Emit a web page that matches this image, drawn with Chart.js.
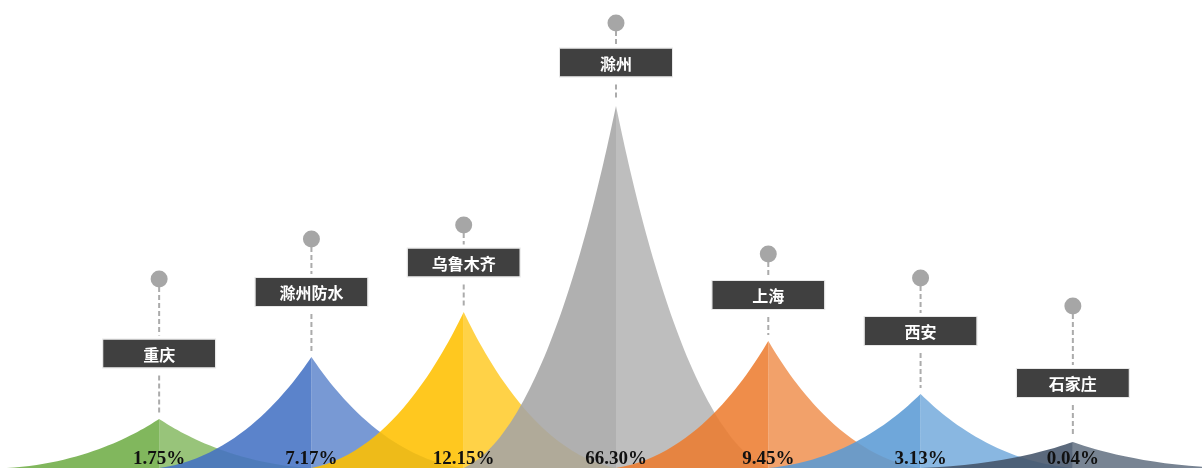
<!DOCTYPE html>
<html>
<head>
<meta charset="utf-8">
<script src="https://cdn.jsdelivr.net/npm/chart.js@4.4.1/dist/chart.umd.min.js"></script>
<style>
html,body{margin:0;padding:0;background:#fff;overflow:hidden;}
canvas{display:block;}
</style>
</head>
<body>
<canvas id="c" width="1202" height="469" style="width:1202px;height:469px;"></canvas>
<script>
// ---- data ----
const categories = ['重庆', '滁州防水', '乌鲁木齐', '滁州', '上海', '西安', '石家庄'];
const percentLabels = ['1.75%', '7.17%', '12.15%', '66.30%', '9.45%', '3.13%', '0.04%'];
const spikeHeights = [49, 111, 156, 362, 127, 74, 26];          // spike peak value
const markerHeights = [189, 229, 243, 445, 214, 190, 162];      // grey pin value
const labelHeights = [114.5, 176, 205.5, 405.5, 173, 137, 85];  // name box value
const seriesColors = ['#70AD47', '#4472C4', '#FFC000', '#A5A5A5', '#ED7D31', '#5B9BD5', '#44546A'];

function rgba(hex, a) {
  const n = parseInt(hex.slice(1), 16);
  return `rgba(${(n >> 16) & 255},${(n >> 8) & 255},${n & 255},${a})`;
}

const spikePlugin = {
  id: 'spikes',
  afterDatasetDraw(chart, args) {
    if (args.index !== 0) return;
    const ctx = chart.ctx;
    const meta = chart.getDatasetMeta(0);
    ctx.save();
    meta.data.forEach((el, i) => {
      const x = el.x, top = el.y, base = el.base;
      const w = el.width;            // half width of spike = one category width
      const h = base - top;
      const col = seriesColors[i];
      ctx.beginPath();
      ctx.moveTo(x - w, base);
      ctx.bezierCurveTo(x - w * 0.45, base - h * 0.1, x - w * 0.1, base - h * 0.8, x, top);
      ctx.lineTo(x, base);
      ctx.closePath();
      ctx.fillStyle = rgba(col, 0.88);
      ctx.fill();
      ctx.beginPath();
      ctx.moveTo(x + w, base);
      ctx.bezierCurveTo(x + w * 0.45, base - h * 0.1, x + w * 0.1, base - h * 0.8, x, top);
      ctx.lineTo(x, base);
      ctx.closePath();
      ctx.fillStyle = rgba(col, 0.72);
      ctx.fill();
    });
    ctx.restore();
  },
  afterDatasetsDraw(chart) {
    const ctx = chart.ctx;
    const meta = chart.getDatasetMeta(0);
    const yScale = chart.scales.y;
    ctx.save();
    meta.data.forEach((el, i) => {
      const x = el.x;
      const peak = el.y;
      const pinY = yScale.getPixelForValue(markerHeights[i]);
      const boxY = yScale.getPixelForValue(labelHeights[i]);
      const bw = 112, bh = 28;
      const bTop = boxY - bh / 2, bBot = boxY + bh / 2;
      ctx.strokeStyle = '#ABABAB';
      ctx.lineWidth = 2;
      ctx.setLineDash([5, 3]);
      ctx.beginPath();
      ctx.moveTo(x, pinY + 8);
      ctx.lineTo(x, bTop - 4);
      ctx.moveTo(x, bBot + 8);
      ctx.lineTo(x, peak - 6);
      ctx.stroke();
      ctx.setLineDash([]);
      ctx.fillStyle = '#404040';
      ctx.fillRect(x - bw / 2, bTop, bw, bh);
      ctx.strokeStyle = '#E8E8E8';
      ctx.lineWidth = 1;
      ctx.strokeRect(x - bw / 2 - 0.5, bTop - 0.5, bw + 1, bh + 1);
      ctx.fillStyle = '#FFFFFF';
      ctx.font = 'bold 16px "Noto Sans CJK SC", sans-serif';
      ctx.textAlign = 'center';
      ctx.textBaseline = 'middle';
      ctx.fillText(categories[i], x, boxY + 1);
      ctx.fillStyle = '#111111';
      ctx.font = 'bold 19px "Liberation Serif", serif';
      ctx.textBaseline = 'alphabetic';
      ctx.fillText(percentLabels[i], x, el.base - 4);
    });
    ctx.restore();
  }
};

new Chart(document.getElementById('c'), {
  data: {
    labels: categories,
    datasets: [
      {
        type: 'bar',
        data: spikeHeights,
        backgroundColor: 'rgba(0,0,0,0)',
        borderWidth: 0,
        categoryPercentage: 1,
        barPercentage: 1,
        order: 2
      },
      {
        type: 'line',
        data: markerHeights,
        showLine: false,
        pointRadius: 8.5,
        pointHoverRadius: 8.5,
        pointBackgroundColor: '#A6A6A6',
        pointBorderWidth: 0,
        order: 1
      }
    ]
  },
  options: {
    responsive: false,
    animation: false,
    devicePixelRatio: 1,
    layout: { autoPadding: false, padding: { left: 83, right: 53, top: 0, bottom: 1 } },
    plugins: { legend: { display: false }, tooltip: { enabled: false } },
    scales: {
      x: { display: false, offset: true },
      y: { display: false, min: 0, max: 468 }
    }
  },
  plugins: [spikePlugin]
});
</script>
</body>
</html>
